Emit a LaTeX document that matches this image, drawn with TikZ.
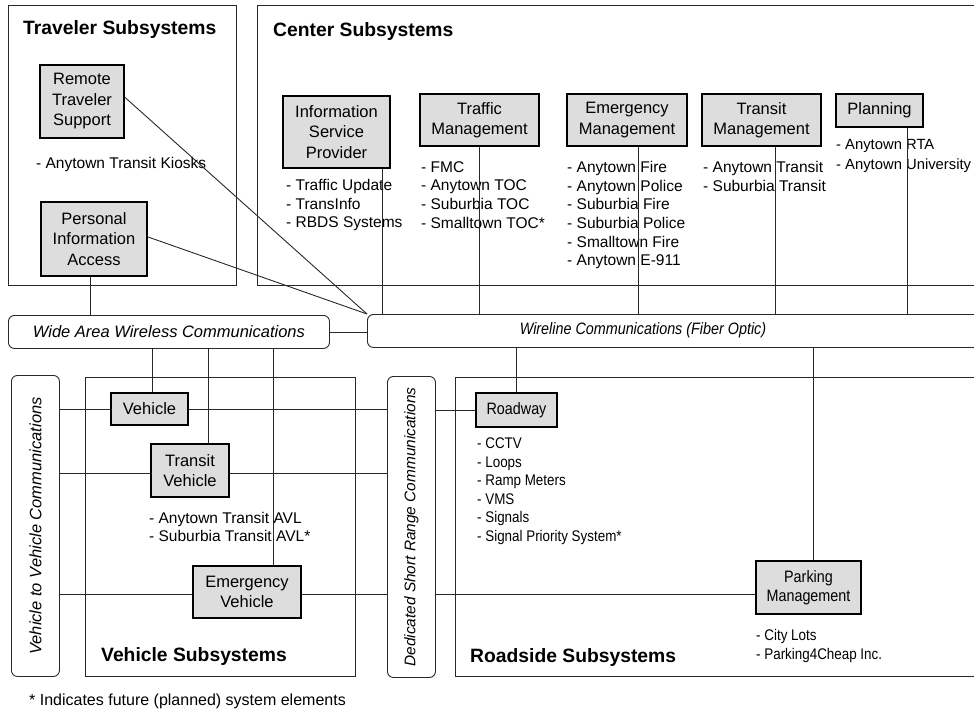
\documentclass[tikz,border=0pt]{standalone}
\usepackage{fontspec}
\setmainfont{Liberation Sans}
\newfontfamily\narrowfont[FakeStretch=0.87]{Liberation Sans}
\definecolor{boxgray}{RGB}{221,221,221}
\definecolor{linegray}{RGB}{40,40,40}
\begin{document}
\begin{tikzpicture}[x=1pt,y=-1pt,
  container/.style={draw=linegray, line width=0.9pt, inner sep=0pt},
  sysbox/.style={draw=black, line width=2.2pt, fill=boxgray, align=center, inner sep=0pt,
                 font=\fontsize{16.5}{20.5}\selectfont},
  sysboxn/.style={sysbox, font=\narrowfont\fontsize{16.5}{19}\selectfont},
  bar/.style={draw=linegray, line width=0.9pt, rounded corners=6pt, inner sep=0pt},
  bartext/.style={inner sep=0pt, font=\fontsize{16.5}{19}\selectfont\itshape},
  title/.style={anchor=base west, inner sep=0pt, font=\fontsize{19.3}{23}\selectfont\bfseries},
  lst/.style={anchor=north west, inner sep=0pt, align=left, font=\fontsize{15.5}{18.6}\selectfont},
  lstn/.style={anchor=north west, inner sep=0pt, align=left, font=\narrowfont\fontsize{15.4}{18.6}\selectfont},
  link/.style={draw=linegray, line width=0.9pt}]
\clip (0,0) rectangle (974,710);

% containers
\node[container, minimum width=228, minimum height=280, anchor=north west] (trav) at (8,5) {};
\node[container, minimum width=730, minimum height=280, anchor=north west] (cent) at (257,5) {};
\node[container, minimum width=270, minimum height=299, anchor=north west] (vehs) at (85,377) {};
\node[container, minimum width=530, minimum height=299, anchor=north west] (road) at (455,377) {};

% titles
\node[title] (travt) at (23,34.5) {Traveler Subsystems};
\node[title] (centt) at (273,36) {Center Subsystems};
\node[title] (vehst) at (101,661.5) {Vehicle Subsystems};
\node[title] (roadt) at (470,662) {Roadside Subsystems};

% communication bars
\node[bar, minimum width=321, minimum height=33, anchor=north west] (wa) at (8,315) {};
\node[bartext] (watext) at (wa.center) {Wide Area Wireless Communications};
\node[bar, minimum width=640, minimum height=33, anchor=north west] (wl) at (367,314) {};
\node[bartext, font=\narrowfont\fontsize{16.5}{19}\selectfont\itshape] (wltext) at (643,330.5) {Wireline Communications (Fiber Optic)};
\node[bar, minimum width=48, minimum height=301, anchor=north west] (v2v) at (11,375) {};
\node[bartext, rotate=90] (v2vtext) at (v2v.center) {Vehicle to Vehicle Communications};
\node[bar, minimum width=48, minimum height=301, anchor=north west] (dsrc) at (387,376) {};
\node[bartext, rotate=90, font=\fontsize{15.4}{18}\selectfont\itshape] (dsrctext) at (dsrc.center) {Dedicated Short Range Communications};

% subsystem boxes
\node[sysbox, minimum width=84, minimum height=73] (rts) at (82,101.5) {Remote\\Traveler\\Support};
\node[sysbox, minimum width=106, minimum height=74] (pia) at (94,239) {Personal\\Information\\Access};
\node[sysbox, minimum width=107, minimum height=72] (isp) at (336.5,132) {Information\\Service\\Provider};
\node[sysbox, minimum width=119, minimum height=52] (tm) at (479.5,120) {Traffic\\Management};
\node[sysbox, minimum width=120, minimum height=52] (em) at (627,120) {Emergency\\Management};
\node[sysbox, minimum width=119, minimum height=52] (trm) at (761.5,120) {Transit\\Management};
\node[sysbox, minimum width=87, minimum height=33] (pl) at (879.5,110.5) {Planning};
\node[sysbox, minimum width=77, minimum height=32] (veh) at (149.5,409) {Vehicle};
\node[sysbox, minimum width=78, minimum height=53] (tv) at (190,470.5) {Transit\\Vehicle};
\node[sysbox, minimum width=108, minimum height=52] (ev) at (247,592) {Emergency\\Vehicle};
\node[sysboxn, minimum width=81, minimum height=34] (rw) at (516.5,410) {Roadway};
\node[sysboxn, minimum width=105, minimum height=53] (pk) at (808.5,587.5) {Parking\\Management};

% element lists
\node[lst, anchor=base west] (rtsl) at (36,168.5) {- Anytown Transit Kiosks};
\node[lst] (ispl) at (286,179.2) {- Traffic Update\\- TransInfo\\- RBDS Systems};
\node[lst] (tml) at (421,161.2) {- FMC\\- Anytown TOC\\- Suburbia TOC\\- Smalltown TOC*};
\node[lst] (eml) at (567,161.2) {- Anytown Fire\\- Anytown Police\\- Suburbia Fire\\- Suburbia Police\\- Smalltown Fire\\- Anytown E-911};
\node[lst] (trml) at (703,161.2) {- Anytown Transit\\- Suburbia Transit};
\node[lst, font=\fontsize{14.8}{20}\selectfont] (pll) at (836,139.5) {- Anytown RTA\\- Anytown University};
\node[lst, font=\fontsize{15.5}{18}\selectfont] (tvl) at (149,512.2) {- Anytown Transit AVL\\- Suburbia Transit AVL*};
\node[lstn] (rwl) at (477,437.5) {- CCTV\\- Loops\\- Ramp Meters\\- VMS\\- Signals\\- Signal Priority System*};
\node[lstn, font=\narrowfont\fontsize{15.4}{19}\selectfont] (pkl) at (756,629.5) {- City Lots\\- Parking4Cheap Inc.};

% footnote
\node[anchor=base west, inner sep=0pt, font=\fontsize{16}{19}\selectfont] (note) at (29,705.5) {* Indicates future (planned) system elements};

% connectors: traveler
\draw[link] ([yshift=4pt]rts.east) -- (wl.north west);
\draw[link] ([yshift=2pt]pia.east) -- (wl.north west);
\draw[link] ([xshift=-4pt]pia.south) -- ([xshift=-4pt]pia.south |- wa.north);
\draw[link] (wa.east) -- (wa.east -| wl.west);

% connectors: center
\draw[link] ([xshift=45.5pt]isp.south) -- ([xshift=45.5pt]isp.south |- wl.north);
\draw[link] (tm.south) -- (tm.south |- wl.north);
\draw[link] ([xshift=11pt]em.south) -- ([xshift=11pt]em.south |- wl.north);
\draw[link] ([xshift=13.5pt]trm.south) -- ([xshift=13.5pt]trm.south |- wl.north);
\draw[link] ([xshift=27.5pt]pl.south) -- ([xshift=27.5pt]pl.south |- wl.north);

% connectors: wide area to vehicles
\draw[link] ([xshift=2.5pt]veh.north |- wa.south) -- ([xshift=2.5pt]veh.north);
\draw[link] ([xshift=18pt]tv.north |- wa.south) -- ([xshift=18pt]tv.north);
\draw[link] ([xshift=26pt]ev.north |- wa.south) -- ([xshift=26pt]ev.north);

% connectors: wireline to roadside
\draw[link] (rw.north |- wl.south) -- (rw.north);
\draw[link] ([xshift=4.5pt]pk.north |- wl.south) -- ([xshift=4.5pt]pk.north);

% horizontal connectors
\draw[link] (veh.west -| v2v.east) -- (veh.west);
\draw[link] (veh.east) -- (veh.east -| dsrc.west);
\draw[link] (rw.west -| dsrc.east) -- (rw.west);
\draw[link] ([yshift=-2.5pt]tv.west -| v2v.east) -- ([yshift=-2.5pt]tv.west);
\draw[link] ([yshift=-2.5pt]tv.east) -- ([yshift=-2.5pt]tv.east -| dsrc.west);
\draw[link] ([yshift=-2pt]ev.west -| v2v.east) -- ([yshift=-2pt]ev.west);
\draw[link] ([yshift=-2pt]ev.east) -- ([yshift=-2pt]ev.east -| dsrc.west);
\draw[link] ([yshift=-2pt]ev.east -| dsrc.east) -- ([yshift=-2pt]ev.east -| pk.west);
\end{tikzpicture}
\end{document}
